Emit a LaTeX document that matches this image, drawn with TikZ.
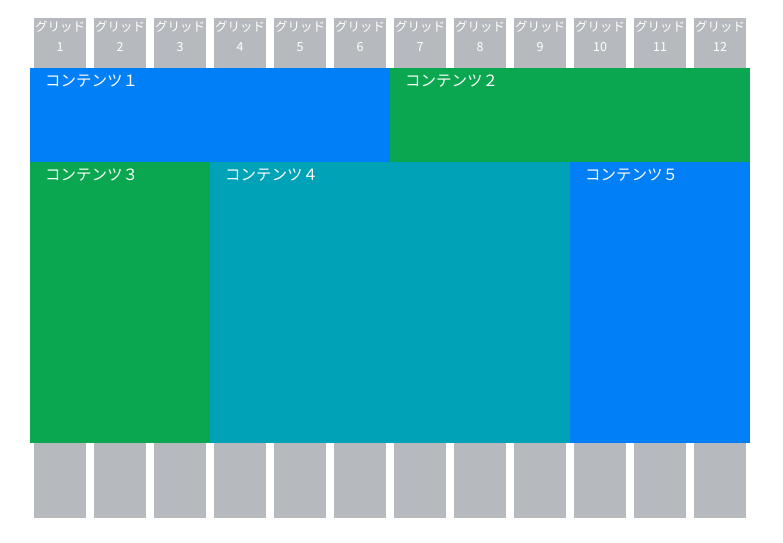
\documentclass[tikz,border=0pt]{standalone}
\usepackage{fontspec}
\newfontfamily\jp{Noto Sans CJK JP}
\usetikzlibrary{positioning}

\definecolor{gridgray}{HTML}{B6B9BE}
\definecolor{cblue}{HTML}{007FF6}
\definecolor{cgreen}{HTML}{0AA650}
\definecolor{cteal}{HTML}{00A2B8}

\tikzset{
  gridcol/.style={fill=gridgray, inner sep=0pt, anchor=north west,
    minimum width=52pt, minimum height=500pt},
  gridlabel/.style={text=white, font=\jp\fontsize{12.5}{13}\selectfont,
    align=center, inner sep=0pt},
  block/.style={inner sep=0pt, anchor=north west},
  blocklabel/.style={text=white, font=\jp\fontsize{15.5}{17}\selectfont,
    inner sep=0pt, anchor=north west}
}

\begin{document}
\begin{tikzpicture}[x=1pt, y=-1pt]
  \useasboundingbox (0,0) rectangle (783,542);

  % グリッド列
  \foreach \i in {1,...,12} {
    \node[gridcol] (g\i) at ({34+60*(\i-1)},18) {};
    \node[gridlabel] (gt\i) at ({60+60*(\i-1)},26.5) {グリッド};
    \node[gridlabel] (gn\i) at ({60+60*(\i-1)},47) {\i};
  }

  % コンテンツ
  \node[block, fill=cblue, minimum width=360pt, minimum height=94pt] (c1) at (30,68) {};
  \node[block, fill=cgreen, minimum width=360pt, minimum height=94pt] (c2) at (390,68) {};
  \node[block, fill=cgreen, minimum width=180pt, minimum height=281pt] (c3) at (30,162) {};
  \node[block, fill=cteal, minimum width=360pt, minimum height=281pt] (c4) at (210,162) {};
  \node[block, fill=cblue, minimum width=180pt, minimum height=281pt] (c5) at (570,162) {};

  % ラベル
  \node[blocklabel, below right=6.5pt and 15pt of c1.north west] (l1) {コンテンツ１};
  \node[blocklabel, below right=6.5pt and 15pt of c2.north west] (l2) {コンテンツ２};
  \node[blocklabel, below right=6.5pt and 15pt of c3.north west] (l3) {コンテンツ３};
  \node[blocklabel, below right=6.5pt and 15pt of c4.north west] (l4) {コンテンツ４};
  \node[blocklabel, below right=6.5pt and 15pt of c5.north west] (l5) {コンテンツ５};
\end{tikzpicture}
\end{document}
